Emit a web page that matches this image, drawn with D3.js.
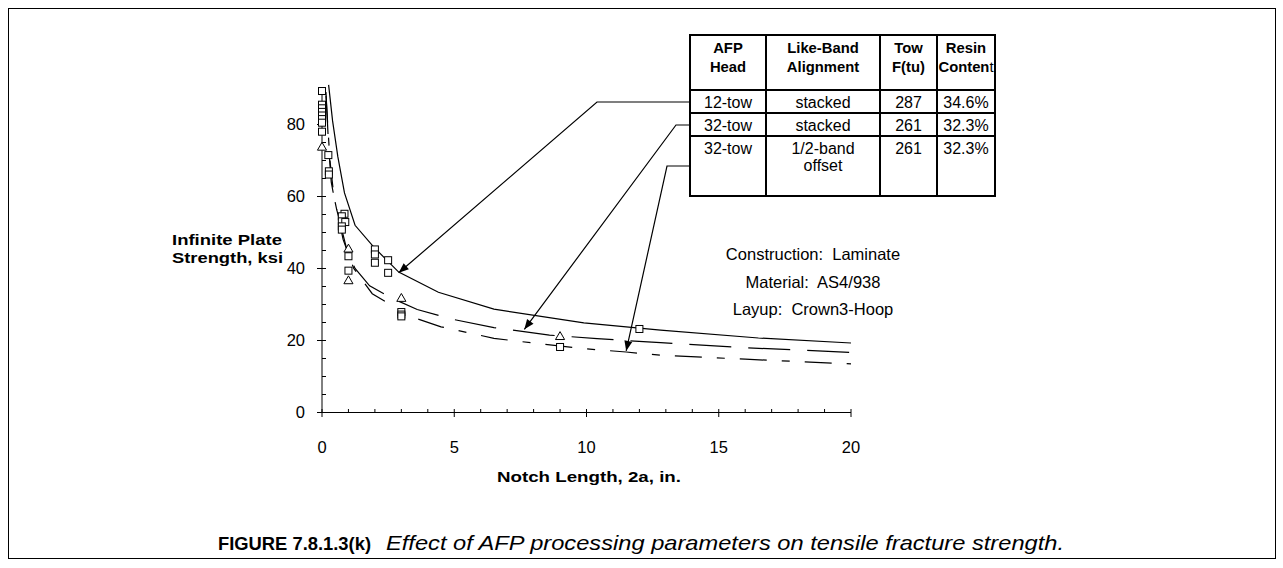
<!DOCTYPE html>
<html><head><meta charset="utf-8">
<script src="https://cdn.jsdelivr.net/npm/d3@7"></script>
<style>
body{margin:0;background:#fff;}
svg{display:block;font-family:"Liberation Sans",Arial,sans-serif;}
</style></head>
<body><svg id="c" width="1283" height="568"></svg>
<script>
// ---- data ----
const curve12towStacked = [[0.25,91],[0.4,81],[0.6,71],[0.85,61],[1.25,52],[1.95,46],[2.9,39],[4.4,33.4],[6.5,28.7],[9.9,24.9],[12.8,22.9],[16.5,20.7],[20,19.3]];
const curve32towStacked = [[0.15,89],[0.25,74],[0.35,64],[0.5,58],[0.93,45.5],[1.25,40],[1.8,35.2],[2.6,31.9],[3.6,28.6],[5,25.8],[6.5,23.6],[8.6,21.5],[10.4,20.5],[12.8,19.4],[16,18],[20,16.7]];
const curve32towOffset = [[0.15,88],[0.3,70],[0.45,60],[0.8,48],[1.2,40],[1.9,33],[3.3,26.8],[4.5,23.8],[6.5,20.6],[8.1,19.2],[9.8,17.8],[11.5,16.8],[12.8,15.9],[16,14.8],[20,13.5]];
const squarePts = [[0,89.3],[0,85.5],[0,84.5],[0,83.5],[0,82.5],[0,81.5],[0,80.5],[0,78],
  [0.24,71.5],[0.26,67],[0.26,66.1],
  [0.85,55.2],[0.75,54.5],[0.75,53.1],[0.88,52.9],[0.75,51.7],[0.75,50.8],
  [1.0,43.4],[1.0,39.4],[2.0,45.3],[2.0,43.9],[2.0,41.6],[2.5,42.3],[2.5,38.8],
  [3.0,27.9],[3.0,27.2],[3.0,26.7],[9.0,18.2],[12.0,23.2]];
const trianglePts = [[0,73.6],[1.0,45.3],[1.0,36.5],[3.0,31.6],[9.0,21.0]];
const xTicks = [0,5,10,15,20];
const yTicks = [0,20,40,60,80];
const tableHeader = [["AFP","Head"],["Like-Band","Alignment"],["Tow","F(tu)"],["Resin","Content"]];
const tableRows = [
  [["12-tow"],["stacked"],["287"],["34.6%"]],
  [["32-tow"],["stacked"],["261"],["32.3%"]],
  [["32-tow"],["1/2-band","offset"],["261"],["32.3%"]]
];
const notes = ["Construction:\u00a0 Laminate","Material:\u00a0 AS4/938","Layup:\u00a0 Crown3-Hoop"];

// ---- drawing ----
const svg = d3.select("#c");
svg.append("rect").attr("x",8.5).attr("y",8.5).attr("width",1267).attr("height",550)
  .attr("fill","none").attr("stroke","#000").attr("stroke-width",1);

const x = d3.scaleLinear().domain([0,20]).range([322,851]);
const y = d3.scaleLinear().domain([0,90]).range([412.5,88.5]);

const g = svg.append("g");
// y axis
g.append("line").attr("x1",x(0)).attr("x2",x(0)).attr("y1",y(0)).attr("y2",y(90)).attr("stroke","#000");
d3.range(0,91,5).forEach(v=>{
  const major = v%20===0;
  g.append("line").attr("x1",major?x(0)-5:x(0)).attr("x2",x(0)+4)
   .attr("y1",y(v)).attr("y2",y(v)).attr("stroke","#000");
});
g.selectAll(".yl").data(yTicks).enter().append("text")
  .attr("x",x(0)-17).attr("y",d=>y(d)).attr("dy","0.36em").attr("text-anchor","end")
  .attr("font-size",16.5).text(d=>d);
// x axis
g.append("line").attr("x1",x(0)).attr("x2",x(20)).attr("y1",y(0)).attr("y2",y(0)).attr("stroke","#000");
d3.range(0,21,1).forEach(v=>{
  const major = v%5===0;
  g.append("line").attr("x1",x(v)).attr("x2",x(v))
   .attr("y1",y(0)-3.5).attr("y2",major?y(0)+4.5:y(0)).attr("stroke","#000");
});
g.selectAll(".xl").data(xTicks).enter().append("text")
  .attr("x",d=>x(d)).attr("y",453).attr("text-anchor","middle")
  .attr("font-size",16.5).text(d=>d);

// axis titles
svg.append("text").attr("x",497).attr("y",482).attr("font-size",15.5).attr("font-weight","bold")
  .attr("textLength",184).attr("lengthAdjust","spacingAndGlyphs").text("Notch Length, 2a, in.");
const yt = svg.append("g").attr("font-size",15.5).attr("font-weight","bold");
yt.append("text").attr("x",172).attr("y",245).attr("textLength",110).attr("lengthAdjust","spacingAndGlyphs").text("Infinite Plate");
yt.append("text").attr("x",172).attr("y",263).attr("textLength",111).attr("lengthAdjust","spacingAndGlyphs").text("Strength, ksi");

// curves
const line = d3.line().x(d=>x(d[0])).y(d=>y(d[1]));
svg.append("path").attr("d",line(curve12towStacked)).attr("fill","none").attr("stroke","#000").attr("stroke-width",1.2);
svg.append("path").attr("d",line(curve32towStacked)).attr("fill","none").attr("stroke","#000").attr("stroke-width",1.2)
  .attr("stroke-dasharray","42,17");
svg.append("path").attr("d",line(curve32towOffset)).attr("fill","none").attr("stroke","#000").attr("stroke-width",1.2)
  .attr("stroke-dasharray","27,15,8,15");

// markers
svg.selectAll(".sq").data(squarePts).enter().append("rect")
  .attr("x",d=>x(d[0])-3.5).attr("y",d=>y(d[1])-3.5).attr("width",7).attr("height",7)
  .attr("fill","#fff").attr("stroke","#000").attr("stroke-width",1);
const tri = d3.symbol().type(d3.symbolTriangle).size(36);
svg.selectAll(".tr").data(trianglePts).enter().append("path")
  .attr("d",tri).attr("transform",d=>`translate(${x(d[0])},${y(d[1])})`)
  .attr("fill","#fff").attr("stroke","#000").attr("stroke-width",1);

// table
const colX = [690,766,880,937,995];
const rowY = [35,90,113,136,196];
const tg = svg.append("g");
tg.append("rect").attr("x",colX[0]).attr("y",rowY[0]).attr("width",colX[4]-colX[0]).attr("height",rowY[4]-rowY[0])
  .attr("fill","#fff").attr("stroke","#000").attr("stroke-width",2);
colX.slice(1,4).forEach(cx=>tg.append("line").attr("x1",cx).attr("x2",cx).attr("y1",rowY[0]).attr("y2",rowY[4]).attr("stroke","#000").attr("stroke-width",2));
rowY.slice(1,4).forEach(ry=>tg.append("line").attr("x1",colX[0]).attr("x2",colX[4]).attr("y1",ry).attr("y2",ry).attr("stroke","#000").attr("stroke-width",2));
tableHeader.forEach((h,i)=>{
  const cx=(colX[i]+colX[i+1])/2;
  h.forEach((t,j)=>{
    const te = tg.append("text").attr("x",cx).attr("y",53+j*19).attr("text-anchor","middle").attr("font-size",14.8).attr("font-weight","bold");
    if(t==="Content"){ te.append("tspan").text("Conten"); te.append("tspan").attr("font-weight","normal").text("t"); }
    else te.text(t);
  });
});
tableRows.forEach((r,ri)=>{
  r.forEach((cell,ci)=>{
    const cx=(colX[ci]+colX[ci+1])/2;
    cell.forEach((t,j)=>{
      tg.append("text").attr("x",cx).attr("y",rowY[ri+1]+17.5+j*17).attr("text-anchor","middle").attr("font-size",16).text(t);
    });
  });
});

// leader arrows
svg.append("defs").append("marker").attr("id","ah").attr("viewBox","0 0 10 10").attr("refX",10).attr("refY",5)
  .attr("markerWidth",14).attr("markerHeight",10).attr("markerUnits","userSpaceOnUse").attr("orient","auto")
  .append("path").attr("d","M0,1 L10,5 L0,9 Z").attr("fill","#000");
const arrows = [
  [[690,102],[597,102],[x(2.9),y(38.8)]],
  [[690,125],[676,125],[x(7.65),y(23.1)]],
  [[690,166],[667,166],[x(11.5),y(17.1)]]
];
arrows.forEach(a=>{
  svg.append("path").attr("d",d3.line()(a)).attr("fill","none").attr("stroke","#000").attr("stroke-width",1.2)
    .attr("marker-end","url(#ah)");
});

// notes
notes.forEach((t,i)=>svg.append("text").attr("x",813).attr("y",260+i*27.5).attr("text-anchor","middle").attr("font-size",16.5).text(t));

// caption
svg.append("text").attr("x",218).attr("y",550).attr("font-size",19).attr("font-weight","bold")
  .attr("textLength",153).attr("lengthAdjust","spacingAndGlyphs").text("FIGURE 7.8.1.3(k)");
svg.append("text").attr("x",386).attr("y",550).attr("font-size",21).attr("font-style","italic")
  .attr("textLength",678).attr("lengthAdjust","spacingAndGlyphs").text("Effect of AFP processing parameters on tensile fracture strength.");
</script></body></html>
